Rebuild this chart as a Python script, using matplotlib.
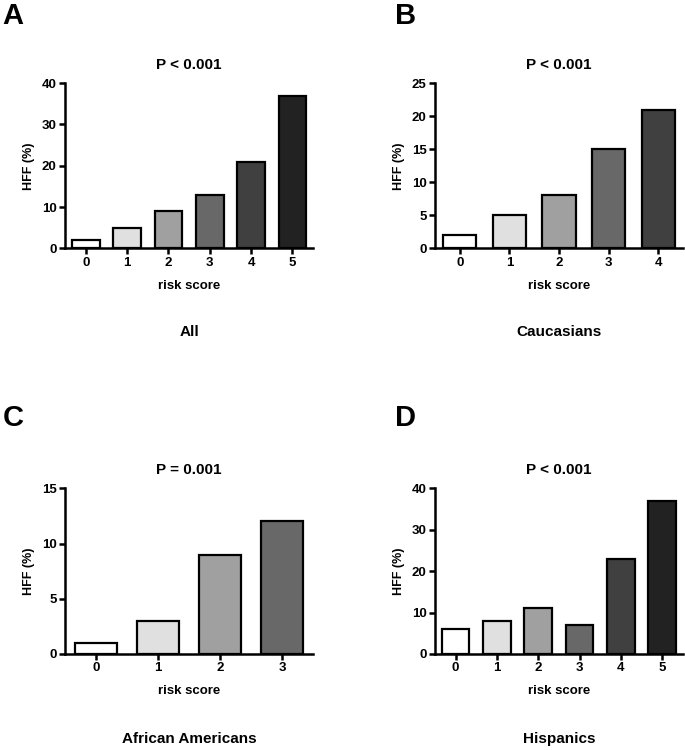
import matplotlib
matplotlib.use("Agg")
import matplotlib.pyplot as plt

plt.rcParams['font.family'] = ['Liberation Sans', 'DejaVu Sans']
plt.rcParams['font.weight'] = 'bold'

# data
scores_a = [0, 1, 2, 3, 4, 5]
hff_a = [2, 5, 9, 13, 21, 37]
scores_b = [0, 1, 2, 3, 4]
hff_b = [2, 5, 8, 15, 21]
scores_c = [0, 1, 2, 3]
hff_c = [1, 3, 9, 12]
scores_d = [0, 1, 2, 3, 4, 5]
hff_d = [6, 8, 11, 7, 23, 37]

grays = ['#ffffff', '#e0e0e0', '#a0a0a0', '#686868', '#404040', '#222222']

panels = [
    ('A', scores_a, hff_a, 'P < 0.001', 'All', 40, 10, [0.095, 0.669, 0.362, 0.22]),
    ('B', scores_b, hff_b, 'P < 0.001', 'Caucasians', 25, 5, [0.635, 0.669, 0.362, 0.22]),
    ('C', scores_c, hff_c, 'P = 0.001', 'African Americans', 15, 5, [0.095, 0.128, 0.362, 0.221]),
    ('D', scores_d, hff_d, 'P < 0.001', 'Hispanics', 40, 10, [0.635, 0.128, 0.362, 0.221]),
]

fig = plt.figure(figsize=(6.85, 7.5), dpi=100)

for letter, x, y, ptxt, group, ymax, step, pos in panels:
    ax = fig.add_axes(pos)
    ax.bar(x, y, width=0.67, color=grays[:len(x)], edgecolor='black', linewidth=1.6)
    ax.set_xlim(-0.5, len(x) - 0.5)
    ax.set_ylim(0, ymax)
    ax.set_yticks(range(0, ymax + 1, step))
    ax.set_xticks(x)
    ax.spines['top'].set_visible(False)
    ax.spines['right'].set_visible(False)
    ax.spines['left'].set_linewidth(1.8)
    ax.spines['bottom'].set_linewidth(1.8)
    ax.tick_params(width=1.8, length=4, labelsize=9.5, pad=2)
    for lab in ax.get_xticklabels() + ax.get_yticklabels():
        lab.set_fontweight('bold')
    ax.set_xlabel('risk score', fontsize=9.5, fontweight='bold', labelpad=8)
    ax.set_ylabel('HFF (%)', fontsize=9, fontweight='bold', labelpad=5)
    ax.text(0.5, 1.11, ptxt, transform=ax.transAxes, ha='center', va='center',
            fontsize=11, fontweight='bold')
    ax.text(0.5, -0.51, group, transform=ax.transAxes, ha='center', va='center',
            fontsize=11, fontweight='bold')
    lx = 0.004 if letter in 'AC' else 0.576
    ly = 0.997 if letter in 'AB' else 0.462
    fig.text(lx, ly, letter, fontsize=21, fontweight='bold', ha='left', va='top')

fig.savefig('out.png', dpi=100)
